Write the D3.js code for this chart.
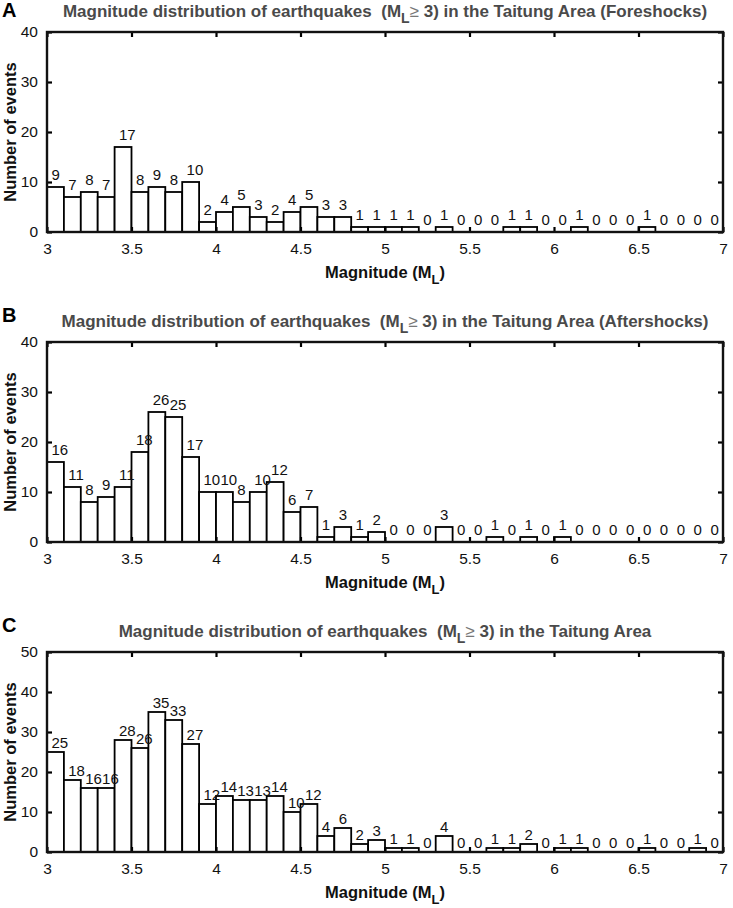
<!DOCTYPE html>
<html>
<head>
<meta charset="utf-8">
<script src="https://cdn.jsdelivr.net/npm/d3@7"></script>
<style>
  body { margin: 0; background: #fff; }
  text { font-family: "Liberation Sans", Arial, Helvetica, sans-serif; }
</style>
</head>
<body>
<div id="chart"></div>
<script>
// bin left edges (magnitude), width 0.1
const binStarts = [3.0, 3.1, 3.2, 3.3, 3.4, 3.5, 3.6, 3.7, 3.8, 3.9,
  4.0, 4.1, 4.2, 4.3, 4.4, 4.5, 4.6, 4.7, 4.8, 4.9,
  5.0, 5.1, 5.2, 5.3, 5.4, 5.5, 5.6, 5.7, 5.8, 5.9,
  6.0, 6.1, 6.2, 6.3, 6.4, 6.5, 6.6, 6.7, 6.8, 6.9];
const binWidth = 0.1;

const foreshocks = [9, 7, 8, 7, 17, 8, 9, 8, 10, 2,
  4, 5, 3, 2, 4, 5, 3, 3, 1, 1,
  1, 1, 0, 1, 0, 0, 0, 1, 1, 0,
  0, 1, 0, 0, 0, 1, 0, 0, 0, 0];
const aftershocks = [16, 11, 8, 9, 11, 18, 26, 25, 17, 10,
  10, 8, 10, 12, 6, 7, 1, 3, 1, 2,
  0, 0, 0, 3, 0, 0, 1, 0, 1, 0,
  1, 0, 0, 0, 0, 0, 0, 0, 0, 0];
const allEvents = [25, 18, 16, 16, 28, 26, 35, 33, 27, 12,
  14, 13, 13, 14, 10, 12, 4, 6, 2, 3,
  1, 1, 0, 4, 0, 0, 1, 1, 2, 0,
  1, 1, 0, 0, 0, 1, 0, 0, 1, 0];

const xTicks = [3, 3.5, 4, 4.5, 5, 5.5, 6, 6.5, 7];
const yTicksAB = [0, 10, 20, 30, 40];
const yTicksC = [0, 10, 20, 30, 40, 50];

const panels = [
  { letter: "A", suffix: " in the Taitung Area (Foreshocks)", values: foreshocks, yMax: 40, yTicks: yTicksAB, top: 32, letterY: 17 },
  { letter: "B", suffix: " in the Taitung Area (Aftershocks)", values: aftershocks, yMax: 40, yTicks: yTicksAB, top: 342, letterY: 322 },
  { letter: "C", suffix: " in the Taitung Area", values: allEvents, yMax: 50, yTicks: yTicksC, top: 652, letterY: 632 }
];

const w = 733;
const h = 908;
const left = 47;
const right = 723;
const ph = 200;
const tickLen = 5;

const svg = d3.select("#chart").append("svg").attr("width", w).attr("height", h);

const x = d3.scaleLinear().domain([3, 7]).range([left, right]);

panels.forEach((p) => {
  const bottom = p.top + ph;
  const y = d3.scaleLinear().domain([0, p.yMax]).range([bottom, p.top]);
  const g = svg.append("g");

  // bars
  g.selectAll("rect.bar")
    .data(binStarts)
    .enter()
    .append("rect")
    .attr("class", "bar")
    .attr("x", (d) => x(d))
    .attr("width", (d) => x(d + binWidth) - x(d))
    .attr("y", (d, i) => y(p.values[i]))
    .attr("height", (d, i) => bottom - y(p.values[i]))
    .attr("fill", "#fff")
    .attr("stroke", "#000")
    .attr("stroke-width", 1.8);

  // count labels
  g.selectAll("text.count")
    .data(binStarts)
    .enter()
    .append("text")
    .attr("class", "count")
    .attr("x", (d) => x(d + 0.026))
    .attr("y", (d, i) => y(p.values[i] + 2.5))
    .attr("dominant-baseline", "central")
    .attr("font-size", 15)
    .attr("fill", "#111")
    .text((d, i) => p.values[i]);

  // axes with inward ticks, mirrored on top/right
  const axB = d3.axisBottom(x).tickValues(xTicks).tickSizeInner(-tickLen).tickSizeOuter(0).tickPadding(11).tickFormat(d3.format("~g"));
  const axT = d3.axisTop(x).tickValues(xTicks).tickSizeInner(-tickLen).tickSizeOuter(0).tickFormat("");
  const axL = d3.axisLeft(y).tickValues(p.yTicks).tickSizeInner(-tickLen).tickSizeOuter(0).tickPadding(9);
  const axR = d3.axisRight(y).tickValues(p.yTicks).tickSizeInner(-tickLen).tickSizeOuter(0).tickFormat("");

  const gb = g.append("g").attr("transform", `translate(0,${bottom})`).call(axB);
  const gt = g.append("g").attr("transform", `translate(0,${p.top})`).call(axT);
  const gl = g.append("g").attr("transform", `translate(${left},0)`).call(axL);
  const gr = g.append("g").attr("transform", `translate(${right},0)`).call(axR);

  [gb, gt, gl, gr].forEach((a) => {
    a.select(".domain").remove();
    a.selectAll(".tick line").attr("stroke", "#000").attr("stroke-width", 2.2);
    a.selectAll(".tick text").attr("font-size", 15.5).attr("fill", "#111")
      .style("font-family", '"Liberation Sans", Arial, sans-serif');
  });
  gb.selectAll(".tick text").attr("dy", "0.71em");

  // frame
  g.append("rect")
    .attr("x", left)
    .attr("y", p.top)
    .attr("width", right - left)
    .attr("height", ph)
    .attr("fill", "none")
    .attr("stroke", "#111")
    .attr("stroke-width", 2.4);

  // panel letter
  svg.append("text")
    .attr("x", 2)
    .attr("y", p.letterY)
    .attr("font-size", 20)
    .attr("font-weight", "bold")
    .text(p.letter);

  // title
  const t = svg.append("text")
    .attr("x", (left + right) / 2)
    .attr("y", p.top - 15)
    .attr("text-anchor", "middle")
    .attr("font-size", 17)
    .attr("font-weight", "bold")
    .attr("fill", "#4a4a4a");
  t.append("tspan").text("Magnitude distribution of earthquakes\u00a0\u00a0(M");
  t.append("tspan").attr("dy", 6).attr("font-size", 14).text("L");
  t.append("tspan").attr("dy", -6).attr("font-weight", "normal").attr("fill", "#777").text("\u2265");
  t.append("tspan").text(" 3)" + p.suffix);

  // x label
  const xl = svg.append("text")
    .attr("x", (left + right) / 2)
    .attr("y", bottom + 46)
    .attr("text-anchor", "middle")
    .attr("font-size", 16.5)
    .attr("font-weight", "bold")
    .attr("fill", "#111");
  xl.append("tspan").text("Magnitude (M");
  xl.append("tspan").attr("dy", 6).attr("font-size", 13).text("L");
  xl.append("tspan").attr("dy", -6).text(")");

  // y label
  svg.append("text")
    .attr("transform", `translate(16,${p.top + ph / 2}) rotate(-90)`)
    .attr("text-anchor", "middle")
    .attr("font-size", 16.5)
    .attr("font-weight", "bold")
    .attr("fill", "#111")
    .text("Number of events");
});
</script>
</body>
</html>
